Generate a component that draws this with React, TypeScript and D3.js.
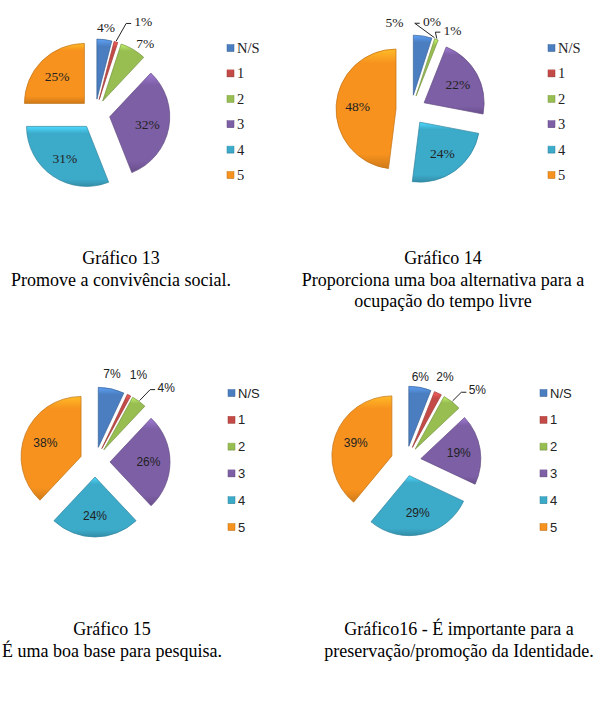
import React from "react";
import * as d3 from "d3";

// categories shared by all four pies
const categories = ["N/S", "1", "2", "3", "4", "5"];
const palette = ["#4A7EC0", "#C44A47", "#98BE52", "#7D5FA6", "#3CAAC9", "#F7921E"];

const values13 = [4, 1, 7, 32, 31, 25];
const values14 = [5, 0, 1, 22, 24, 48];
const values15 = [7, 1, 4, 26, 24, 38];
const values16 = [6, 2, 5, 19, 29, 39];

const caption13 = ["Gráfico 13", "Promove a convivência social."];
const caption14 = ["Gráfico 14", "Proporciona uma boa alternativa para a", "ocupação do tempo livre"];
const caption15 = ["Gráfico 15", "É uma boa base para pesquisa."];
const caption16 = ["Gráfico16 - É importante para a", "preservação/promoção da Identidade."];

const width = 598;
const height = 704;
const radius = 60;
const explode = 15;

const serif = "'Liberation Serif', 'Times New Roman', serif";
const sans = "'Liberation Sans', Arial, sans-serif";

// layout per chart: label nudges keyed by slice index, leader = draw a leader line
const charts = [
  {
    id: "g13", values: values13, caption: caption13, cx: 95, cy: 114, font: serif, labelSize: 13.5, legendSize: 14.5,
    legendX: 227, legendY: 48, legendStep: 25.4, captionX: 121, captionY: 264,
    nudge: { 1: [24, -9], 2: [6, 4] }, leader: [1],
  },
  {
    id: "g14", values: values14, caption: caption14, cx: 411, cy: 110, font: serif, labelSize: 13.5, legendSize: 14.5,
    legendX: 548, legendY: 48, legendStep: 25.4, captionX: 443, captionY: 264,
    nudge: { 0: [-30, -2], 1: [-6, -6], 2: [12, 2] }, leader: [1, 2],
  },
  {
    id: "g15", values: values15, caption: caption15, cx: 95, cy: 462, font: sans, labelSize: 12, legendSize: 13,
    legendX: 228, legendY: 393, legendStep: 26.8, captionX: 112, captionY: 635,
    nudge: { 0: [-2, -3], 1: [4, -10], 2: [20, -4] }, leader: [2],
  },
  {
    id: "g16", values: values16, caption: caption16, cx: 406, cy: 461, font: sans, labelSize: 12, legendSize: 13,
    legendX: 540, legendY: 393, legendStep: 26.8, captionX: 459, captionY: 635,
    nudge: { 0: [-2, 1], 1: [2, -5], 2: [18, -2] }, leader: [2],
  },
];

const pie = d3.pie<number>().sort(null).value((d) => d);
const arc = d3.arc<d3.PieArcDatum<number>>().innerRadius(0).outerRadius(radius);

const Pie = ({ chart }) => {
  const arcs = pie(chart.values);
  return (
    <g>
      {arcs.map((a, i) => {
        const m = (a.startAngle + a.endAngle) / 2;
        const dx = Math.sin(m);
        const dy = -Math.cos(m);
        const ox = chart.cx + dx * explode;
        const oy = chart.cy + dy * explode;
        const label = `${chart.values[i]}%`;
        const outside = chart.values[i] < 10;
        let lx, ly;
        if (outside) {
          const rl = radius + explode + 12;
          const n = chart.nudge[i] || [0, 0];
          lx = chart.cx + dx * rl + n[0];
          ly = chart.cy + dy * rl + n[1];
        } else {
          const rl = explode + radius * 0.64;
          lx = chart.cx + dx * rl;
          ly = chart.cy + dy * rl;
        }
        let leaderPath = null;
        if (chart.leader.includes(i)) {
          const px = chart.cx + dx * (radius + explode + 1);
          const py = chart.cy + dy * (radius + explode + 1);
          const left = lx - chart.labelSize * 0.75;
          leaderPath = `M${px},${py}L${left - 7},${ly + 2}L${left - 2},${ly + 2}`;
        }
        return (
          <g key={i}>
            {a.value > 0 && (
              <path
                d={arc(a)}
                transform={`translate(${ox},${oy})`}
                fill={`url(#${chart.id}-grad-${i})`}
                stroke={d3.color(palette[i]).darker(0.7).toString()}
                strokeWidth={0.7}
              />
            )}
            {leaderPath && <path d={leaderPath} fill="none" stroke="#222" strokeWidth={1} />}
            <text
              x={lx}
              y={ly}
              dy="0.35em"
              textAnchor="middle"
              fontFamily={chart.font}
              fontSize={chart.labelSize}
              fill="#222"
            >
              {label}
            </text>
          </g>
        );
      })}
    </g>
  );
};

const Legend = ({ chart }) => (
  <g>
    {categories.map((c, i) => {
      const y = chart.legendY + i * chart.legendStep;
      return (
        <g key={c}>
          <rect
            x={chart.legendX}
            y={y - 3.5}
            width={7}
            height={7}
            fill={`url(#${chart.id}-grad-${i})`}
            stroke={d3.color(palette[i]).darker(0.7).toString()}
            strokeWidth={0.5}
          />
          <text
            x={chart.legendX + 10}
            y={y}
            dy="0.35em"
            fontFamily={chart.font}
            fontSize={chart.legendSize}
            fill="#222"
          >
            {c}
          </text>
        </g>
      );
    })}
  </g>
);

const Caption = ({ chart }) => (
  <g>
    {chart.caption.map((line, i) => (
      <text
        key={i}
        x={chart.captionX}
        y={chart.captionY + i * 21.5}
        textAnchor="middle"
        fontFamily={serif}
        fontSize={18}
        fill="#000"
      >
        {line}
      </text>
    ))}
  </g>
);

const App = () => {
  return (
    <svg
      width={width}
      height={height}
      style={{ position: "absolute", left: 0, top: 0, background: "#fff" }}
    >
      <defs>
        {charts.map((chart) =>
          palette.map((col, i) => (
            <linearGradient key={`${chart.id}-${i}`} id={`${chart.id}-grad-${i}`} x1="0" y1="0" x2="0" y2="1">
              <stop offset="0%" stopColor={d3.color(col).brighter(0.7).toString()} />
              <stop offset="12%" stopColor={col} />
              <stop offset="88%" stopColor={col} />
              <stop offset="100%" stopColor={d3.color(col).darker(0.5).toString()} />
            </linearGradient>
          ))
        )}
      </defs>
      {charts.map((chart) => (
        <g key={chart.id}>
          <Pie chart={chart} />
          <Legend chart={chart} />
          <Caption chart={chart} />
        </g>
      ))}
    </svg>
  );
};

export default App;
